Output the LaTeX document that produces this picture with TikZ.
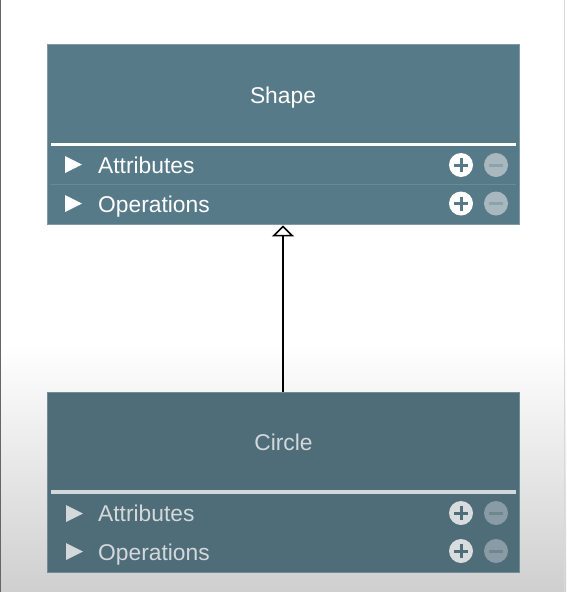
\documentclass[tikz,border=0pt]{standalone}
\usepackage{fontspec}
\setmainfont{Liberation Sans}
\usetikzlibrary{arrows.meta}

\definecolor{boxtop}{HTML}{577A89}
\definecolor{boxbot}{HTML}{4F6C79}
\definecolor{rowtop}{HTML}{6A8A98}
\definecolor{rowbot}{HTML}{5F7A86}
\definecolor{edgetop}{HTML}{7E9AA6}
\definecolor{edgebot}{HTML}{728C98}
\definecolor{txtbot}{HTML}{D3D8DB}
\definecolor{minustop}{HTML}{A9B8BF}
\definecolor{minusbartop}{HTML}{8EA2AB}
\definecolor{minusbot}{HTML}{899CA5}
\definecolor{minusbarbot}{HTML}{6F8590}
\definecolor{plusbot}{HTML}{D8DCDE}
\definecolor{bgbot}{HTML}{CFCFCF}

\tikzset{
  classbox/.style={draw=#1, line width=0.8pt, minimum width=472pt, minimum height=180pt, inner sep=0pt},
  label/.style={font=\fontsize{22.8}{26}\selectfont, text=#1, inner sep=0pt},
  titletext/.style={label=#1, anchor=base},
  rowtext/.style={label=#1, anchor=base west},
  expander/.style={fill=#1, draw=none},
  plusicon/.style={circle, fill=#1, minimum size=24pt, inner sep=0pt},
  minusicon/.style={circle, fill=#1, minimum size=24pt, inner sep=0pt},
  sep/.style={draw=white, line width=3.5pt},
  sepbot/.style={draw=txtbot, line width=3.5pt},
  rowline/.style={draw=#1, line width=0.8pt},
  inherit/.style={draw=black, line width=1.6pt, -{Triangle[open, length=11pt, width=22pt, line width=1.6pt]}}
}

\begin{document}
\begin{tikzpicture}[x=1pt, y=-1pt]
  \useasboundingbox (0,0) rectangle (566,592);
  % page background with the soft grey fade at the bottom
  \fill[white] (0,0) rectangle (566,592);
  \shade[top color=white, bottom color=bgbot] (0,345) rectangle (566,592);
  \draw[black!60, line width=1.5pt] (0.5,0) -- (0.5,592);
  \draw[black!15, line width=1pt] (564.5,0) -- (564.5,592);

  % ---------- class Shape ----------
  \node[classbox=edgetop, fill=boxtop] (shape) at (283,134) {};
  \node[titletext=white] (shapetitle) at (283,103) {Shape};
  \draw[sep] (51,144.5) -- (516,144.5);
  \draw[rowline=rowtop] (51,184) -- (516,184);
  % rows
  \fill[expander=white] (65,156) -- (82,164.5) -- (65,173) -- cycle;
  \node[rowtext=white] (shapeattr) at (98,173) {Attributes};
  \fill[expander=white] (65,195) -- (82,203.5) -- (65,212) -- cycle;
  \node[rowtext=white] (shapeops) at (98,212) {Operations};
  % add / remove buttons
  \node[plusicon=white] (shapeattrplus) at (461,165) {};
  \draw[boxtop, line width=3pt] (454,165) -- (468,165) (461,158) -- (461,172);
  \node[minusicon=minustop] (shapeattrminus) at (496,165) {};
  \draw[minusbartop, line width=3pt] (489,165) -- (503,165);
  \node[plusicon=white] (shapeopsplus) at (461,203.5) {};
  \draw[boxtop, line width=3pt] (454,203.5) -- (468,203.5) (461,196.5) -- (461,210.5);
  \node[minusicon=minustop] (shapeopsminus) at (496,203.5) {};
  \draw[minusbartop, line width=3pt] (489,203.5) -- (503,203.5);

  % ---------- class Circle ----------
  \node[classbox=edgebot, fill=boxbot] (circle) at (283.5,482.5) {};
  \node[titletext=txtbot] (circletitle) at (283.5,450) {Circle};
  \draw[sepbot] (51,492) -- (516,492);
  \fill[expander=txtbot] (66,505) -- (83,513.5) -- (66,522) -- cycle;
  \node[rowtext=txtbot] (circleattr) at (98,521.5) {Attributes};
  \fill[expander=txtbot] (66,543) -- (83,551.5) -- (66,560) -- cycle;
  \node[rowtext=txtbot] (circleops) at (98,560) {Operations};
  \node[plusicon=plusbot] (circleattrplus) at (461,513) {};
  \draw[boxbot, line width=3pt] (454,513) -- (468,513) (461,506) -- (461,520);
  \node[minusicon=minusbot] (circleattrminus) at (496,513) {};
  \draw[minusbarbot, line width=3pt] (489,513) -- (503,513);
  \node[plusicon=plusbot] (circleopsplus) at (461,551) {};
  \draw[boxbot, line width=3pt] (454,551) -- (468,551) (461,544) -- (461,558);
  \node[minusicon=minusbot] (circleopsminus) at (496,551) {};
  \draw[minusbarbot, line width=3pt] (489,551) -- (503,551);

  % ---------- generalisation ----------
  \draw[inherit] (circle.north -| shape.south) -- ([yshift=-1pt]shape.south);
\end{tikzpicture}
\end{document}
